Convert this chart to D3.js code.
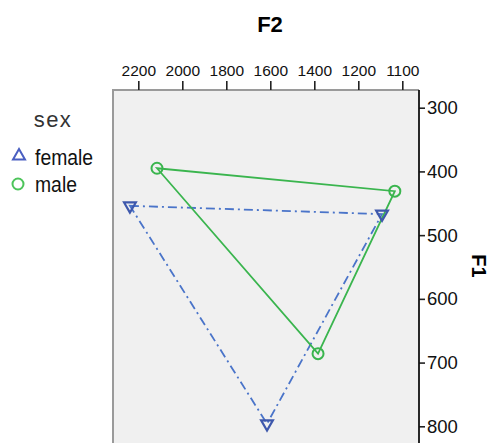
<!DOCTYPE html>
<meta charset="utf-8">
<style>
    body { margin: 0; background: #fff; }
    svg { display: block; overflow: hidden; }
    .tick text { font-family: "Liberation Sans", Arial, sans-serif; fill: #111; }
    .tick line { stroke: #222; stroke-width: 1.6px; }
</style>
<svg width="493" height="443"></svg>
<script src="https://cdnjs.cloudflare.com/ajax/libs/d3/7.8.5/d3.min.js"></script>
<script>

    // formant means per sex (F2 on top axis, F1 on right axis)
    var sexes = ["female", "male"];
    var femaleF2 = [2238, 1146, 1615];
    var femaleF1 = [454, 467, 796];
    var maleF2 = [2115, 1117, 1383];
    var maleF1 = [395, 431, 686];

    var f2Ticks = [2200, 2000, 1800, 1600, 1400, 1200, 1100];
    var f1Ticks = [300, 400, 500, 600, 700, 800];

    var svg = d3.select("svg"),
            width = +svg.attr("width"),
            height = +svg.attr("height");

    var plotLeft = 113, plotRight = 419, plotTop = 90;

    // the F2 axis is stretched below 1200 (ticks equally spaced)
    var x = d3.scaleLinear()
            .domain([2200, 1200, 1100])
            .range([138.3, 358.3, 402.3]);

    var y = d3.scaleLinear()
            .domain([300, 800])
            .range([107.7, 426.3]);

    var color = d3.scaleOrdinal()
            .domain(sexes)
            .range(["#3E58AC", "#3AB54E"]);
    var lineColor = {female: "#4a74c9", male: "#3AB54E"};

    // plot frame
    svg.append("rect")
            .attr("x", plotLeft)
            .attr("y", plotTop)
            .attr("width", plotRight - plotLeft)
            .attr("height", height)
            .attr("fill", "#f0f0f0");
    svg.append("path")
            .attr("d", "M" + plotLeft + "," + (height + 5) + "V" + plotTop + "H" + plotRight)
            .attr("fill", "none")
            .attr("stroke", "#9a9a9a")
            .attr("stroke-width", 2);

    // top axis F2
    var xAxis = svg.append("g")
            .attr("transform", "translate(0," + plotTop + ")")
            .call(d3.axisTop(x).tickValues(f2Ticks).tickFormat(d3.format("d"))
                    .tickSize(9).tickSizeOuter(0).tickPadding(5));
    xAxis.select(".domain").remove();
    xAxis.selectAll(".tick text").style("font-size", "15.5px");

    // right axis F1
    var yAxis = svg.append("g")
            .attr("transform", "translate(" + plotRight + ",0)")
            .call(d3.axisRight(y).tickValues(f1Ticks).tickFormat(d3.format("d"))
                    .tickSize(6).tickSizeOuter(0).tickPadding(2));
    yAxis.select(".domain").remove();
    yAxis.selectAll(".tick text").style("font-size", "18.5px");
    svg.append("line")
            .attr("x1", plotRight).attr("x2", plotRight)
            .attr("y1", plotTop).attr("y2", height + 5)
            .attr("stroke", "#111")
            .attr("stroke-width", 1.8);

    // axis titles
    svg.append("text")
            .attr("x", 270)
            .attr("y", 32)
            .attr("text-anchor", "middle")
            .style("font-family", "Liberation Sans, Arial, sans-serif")
            .style("font-weight", "bold")
            .style("font-size", "22px")
            .text("F2");
    svg.append("text")
            .attr("transform", "translate(472,266) rotate(90)")
            .attr("text-anchor", "middle")
            .style("font-family", "Liberation Sans, Arial, sans-serif")
            .style("font-weight", "bold")
            .style("font-size", "20px")
            .text("F1");

    // series
    var series = [
        {sex: "female", points: d3.zip(femaleF2, femaleF1)},
        {sex: "male", points: d3.zip(maleF2, maleF1)}
    ];

    var line = d3.line()
            .x(function (d) { return x(d[0]); })
            .y(function (d) { return y(d[1]); })
            .curve(d3.curveLinearClosed);

    svg.append("g")
            .selectAll("path")
            .data(series)
            .enter().append("path")
            .attr("d", function (s) { return line(s.points); })
            .attr("fill", "none")
            .attr("stroke", function (s) { return lineColor[s.sex]; })
            .attr("stroke-width", 1.8)
            .attr("stroke-dasharray", function (s) { return s.sex == "female" ? "9,4,2,4" : null; });

    var tri = d3.symbol().type(d3.symbolTriangle).size(60);

    series.forEach(function (s) {
        var g = svg.append("g");
        if (s.sex == "female") {
            g.selectAll("path")
                    .data(s.points)
                    .enter().append("path")
                    .attr("d", tri)
                    .attr("transform", function (d) {
                        return "translate(" + x(d[0]) + "," + y(d[1]) + ") rotate(180)";
                    })
                    .attr("fill", "none")
                    .attr("stroke", color(s.sex))
                    .attr("stroke-width", 2.2);
        } else {
            g.selectAll("circle")
                    .data(s.points)
                    .enter().append("circle")
                    .attr("cx", function (d) { return x(d[0]); })
                    .attr("cy", function (d) { return y(d[1]); })
                    .attr("r", 5.5)
                    .attr("fill", "none")
                    .attr("stroke", color(s.sex))
                    .attr("stroke-width", 2);
        }
    });

    // legend
    var legend = svg.append("g");
    legend.append("text")
            .attr("x", 53)
            .attr("y", 127)
            .attr("text-anchor", "middle")
            .style("font-family", "Liberation Sans, Arial, sans-serif")
            .style("font-size", "22px")
            .style("letter-spacing", "1.5px")
            .style("fill", "#333")
            .text("sex");

    var item = legend.selectAll(".item")
            .data(sexes)
            .enter().append("g")
            .attr("class", "item")
            .attr("transform", function (d, i) { return "translate(0," + (i * 27) + ")"; });

    item.filter(function (d) { return d == "female"; })
            .append("path")
            .attr("d", d3.symbol().type(d3.symbolTriangle).size(62))
            .attr("transform", "translate(19,156)")
            .attr("fill", "none")
            .attr("stroke", "#4a5fc1")
            .attr("stroke-width", 2);
    item.filter(function (d) { return d == "male"; })
            .append("circle")
            .attr("cx", 18)
            .attr("cy", 157)
            .attr("r", 5.5)
            .attr("fill", "none")
            .attr("stroke", "#4cc45a")
            .attr("stroke-width", 2);

    item.append("text")
            .attr("transform", "translate(35,165) scale(0.88,1)")
            .style("font-family", "Liberation Sans, Arial, sans-serif")
            .style("font-size", "22px")
            .style("fill", "#111")
            .text(function (d) { return d; });

</script>
